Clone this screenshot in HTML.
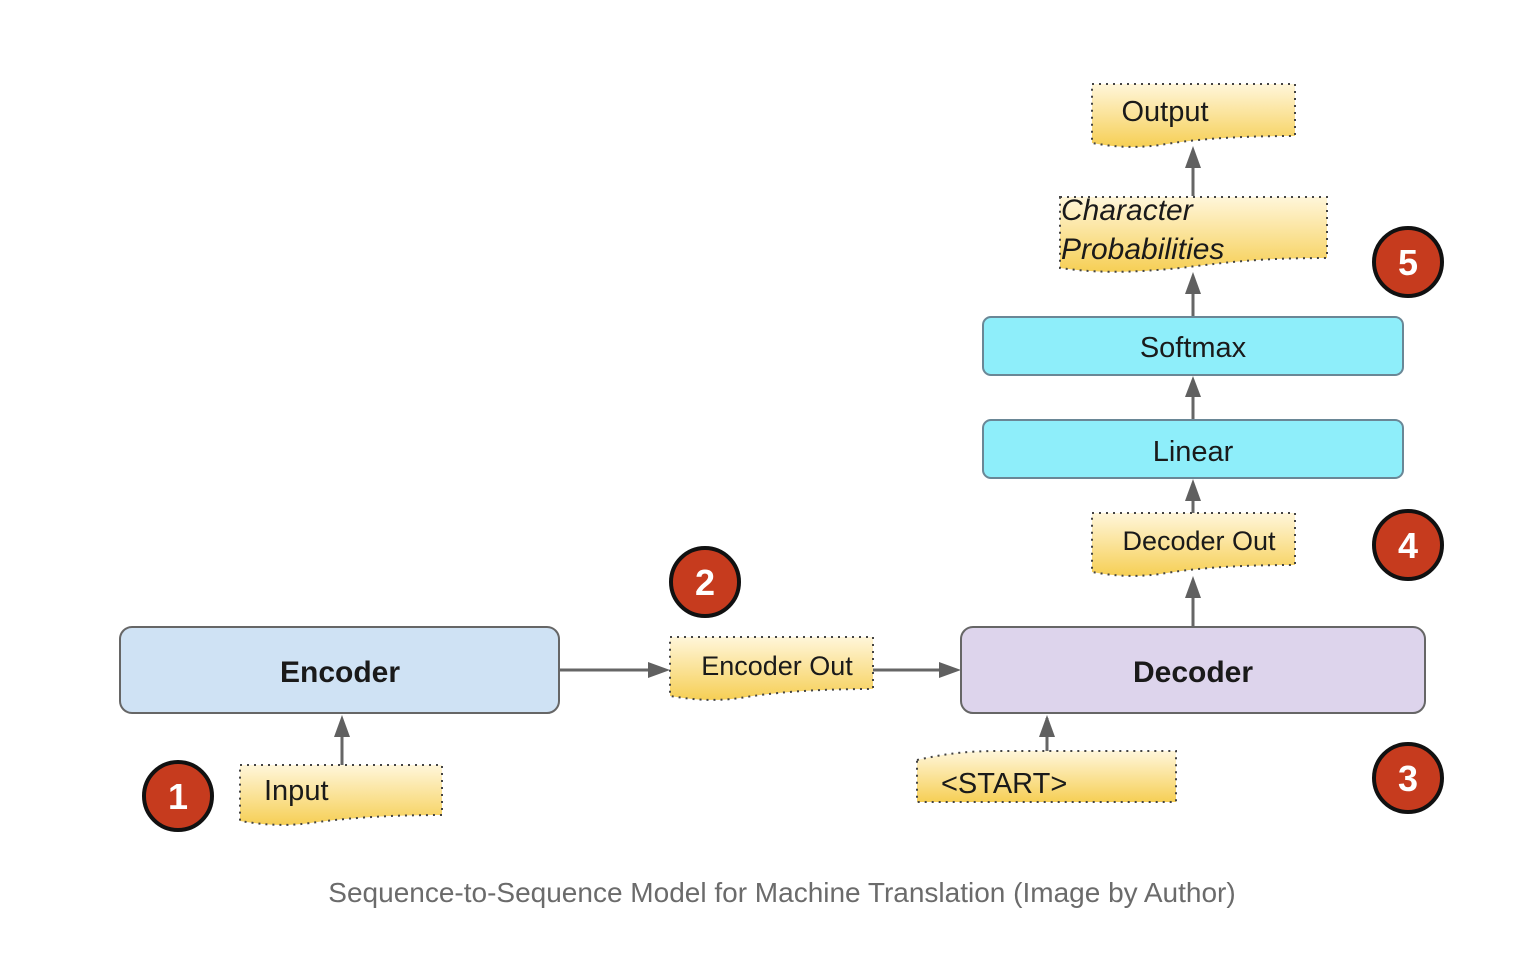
<!DOCTYPE html>
<html><head><meta charset="utf-8"><style>
html,body{margin:0;padding:0;background:#fff;}
svg{display:block;}
text{font-family:"Liberation Sans",sans-serif;}
</style></head><body>
<svg width="1514" height="960" viewBox="0 0 1514 960" xmlns="http://www.w3.org/2000/svg">
<defs>
<linearGradient id="y" x1="0" y1="0" x2="0" y2="1">
<stop offset="0" stop-color="#fff6da"/><stop offset="1" stop-color="#f6cf55"/>
</linearGradient>
</defs>
<g stroke="#666" stroke-width="3" fill="none">
<path d="M1193 196 V150"/><path d="M1193 317 V276"/><path d="M1193 420 V380"/><path d="M1193 513 V483"/><path d="M1193 627 V580"/>
<path d="M342 765 V720"/><path d="M1047 751 V718"/><path d="M560 670 H655"/><path d="M873 670 H945"/>
</g>
<g fill="#606060">
<path d="M1185 168 L1193 146 L1201 168z"/>
<path d="M1185 294 L1193 272 L1201 294z"/>
<path d="M1185 397 L1193 376 L1201 397z"/>
<path d="M1185 501 L1193 479 L1201 501z"/>
<path d="M1185 598 L1193 576 L1201 598z"/>
<path d="M334 737 L342 715 L350 737z"/>
<path d="M1039 737 L1047 715 L1055 737z"/>
<path d="M648 662 L670 670 L648 678z"/>
<path d="M939 662 L961 670 L939 678z"/>
</g>
<g stroke="#444" stroke-width="2" stroke-dasharray="2 5" fill="url(#y)">
<path d="M1092 84 H1295 V136 C1230 136 1190 140 1160 145 C1130 149 1110 146 1092 143 Z"/>
<path d="M1060 197 H1327 V258 C1260 258 1230 262 1180 268 C1120 274 1090 272 1060 268 Z"/>
<path d="M1092 513 H1295 V565 C1230 565 1190 569 1160 574 C1130 578 1110 575 1092 572 Z"/>
<path d="M670 637 H873 V689 C810 689 770 693 740 698 C710 702 690 699 670 696 Z"/>
<path d="M240 765 H442 V815 C380 815 340 819 310 823 C280 827 260 824 240 821 Z"/>
<path d="M917 760 C940 755 960 751 1000 751 H1176 V802 H917 Z"/>
</g>
<rect x="983" y="317" width="420" height="58" rx="8" fill="#8eeefa" stroke="#6a8796" stroke-width="2"/>
<rect x="983" y="420" width="420" height="58" rx="8" fill="#8eeefa" stroke="#6a8796" stroke-width="2"/>
<rect x="120" y="627" width="439" height="86" rx="12" fill="#cfe2f4" stroke="#666" stroke-width="2"/>
<rect x="961" y="627" width="464" height="86" rx="12" fill="#ddd4ec" stroke="#666" stroke-width="2"/>
<g fill="#1a1a1a" font-size="29">
<text x="1165" y="121" text-anchor="middle">Output</text>
<text x="1061" y="220" font-style="italic" font-size="30">Character</text>
<text x="1061" y="259" font-style="italic" font-size="30">Probabilities</text>
<text x="1193" y="357" text-anchor="middle">Softmax</text>
<text x="1193" y="461" text-anchor="middle">Linear</text>
<text x="1199" y="550" text-anchor="middle" font-size="27">Decoder Out</text>
<text x="777" y="675" text-anchor="middle" font-size="27">Encoder Out</text>
<text x="264" y="800">Input</text>
<text x="941" y="793">&lt;START&gt;</text>
<text x="340" y="682" text-anchor="middle" font-weight="bold" font-size="30">Encoder</text>
<text x="1193" y="682" text-anchor="middle" font-weight="bold" font-size="30">Decoder</text>
</g>
<g fill="#c63b1e" stroke="#111" stroke-width="4">
<circle cx="178" cy="796" r="34"/><circle cx="705" cy="582" r="34"/><circle cx="1408" cy="778" r="34"/><circle cx="1408" cy="545" r="34"/><circle cx="1408" cy="262" r="34"/>
</g>
<g fill="#fff" font-size="36" font-weight="bold" text-anchor="middle">
<text x="178" y="809">1</text><text x="705" y="595">2</text><text x="1408" y="791">3</text><text x="1408" y="558">4</text><text x="1408" y="275">5</text>
</g>
<text x="782" y="902" text-anchor="middle" font-size="28" fill="#6b6b6b">Sequence-to-Sequence Model for Machine Translation (Image by Author)</text>
</svg>
</body></html>
